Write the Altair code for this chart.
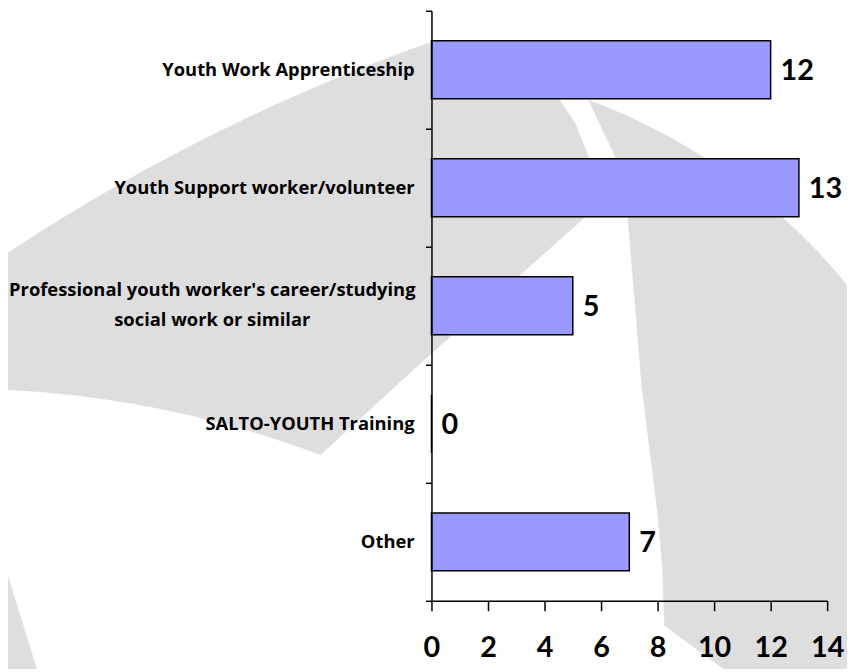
import altair as alt
import numpy as np
import pandas as pd

# ---------------- data ----------------
categories = [
    "Youth Work Apprenticeship",
    "Youth Support worker/volunteer",
    "Professional youth worker's career/studying social work or similar",
    "SALTO-YOUTH Training",
    "Other",
]
label_lines = [
    ["Youth Work Apprenticeship"],
    ["Youth Support worker/volunteer"],
    ["Professional youth worker's career/studying", "social work or similar"],
    ["SALTO-YOUTH Training"],
    ["Other"],
]
values = [12, 13, 5, 0, 7]
x_ticks = [0, 2, 4, 6, 8, 10, 12, 14]

df = pd.DataFrame({
    "cat": categories,
    "value": values,
    "lines": label_lines,
    "multi": [len(l) > 1 for l in label_lines],
})

# ---------------- layout / style ----------------
FONT_NUM = "Lato"
FONT_LBL = "Open Sans"
PAD_L, PAD_T = 427, 0
W, H = 399, 595
OX, OY = PAD_L + 8, PAD_T + 8  # plot origin on the page

# ---------------- decorative watermark (grey swooshes behind the chart) ----------------
def arc_pts(cx, cy, r, x0, x1, n=24):
    xs = np.linspace(x0, x1, n)
    ys = cy - np.sqrt(r * r - (xs - cx) ** 2)
    return [[float(x), float(y)] for x, y in zip(xs, ys)]

shape_a = (arc_pts(1090, 1890, 1963, -12, 430)
           + [[460, 38], [500, 38], [540, 45], [556, 65], [563, 96], [580, 122],
              [593, 154], [595, 185], [590, 216], [430, 358]]
           + arc_pts(-42, 1420, 1031, 323, -12))
shape_b = ([[593, 97], [606, 125], [620, 154], [628, 185], [633, 216], [640, 300],
            [647, 386], [655, 450], [663, 514], [668, 570], [670, 628], [730, 672],
            [742, 700], [880, 700], [880, 320]]
           + arc_pts(381, 670, 610, 870, 593))
shape_c = [[-12, 549], [0, 553], [37, 672], [43, 700], [-12, 700]]

def feature(pts):
    ring = [[x - OX, y - OY] for x, y in pts]
    ring.append(ring[0])
    return {"type": "Feature", "properties": {},
            "geometry": {"type": "Polygon", "coordinates": [ring]}}

watermark = alt.Chart(alt.Data(values=[feature(shape_a), feature(shape_b), feature(shape_c)])
                      ).mark_geoshape(fill="#DEDEDE", stroke="#DEDEDE", strokeWidth=0.5,
                                      clip=False
                      ).project(type="identity", scale=1, translate=[0, 0])

# ---------------- chart ----------------
y_enc = alt.Y("cat:N", sort=categories,
              scale=alt.Scale(paddingInner=0, paddingOuter=0),
              axis=alt.Axis(title=None, labels=False, ticks=True, tickSize=6,
                            tickBand="extent", tickColor="black", tickWidth=1.5,
                            domainColor="black", domainWidth=1.5, grid=False, zindex=2))
x_enc = alt.X("value:Q", scale=alt.Scale(domain=[0, 14], nice=False),
              axis=alt.Axis(title=None, values=x_ticks, tickSize=10, tickColor="black",
                            tickWidth=1.5, domainColor="black", domainWidth=1.5,
                            labelFont=FONT_NUM, labelFontWeight="bold", labelFontSize=29,
                            labelColor="black", labelPadding=23, grid=False,
                            labelFlush=False, zindex=2))

bars = alt.Chart(df).mark_bar(color="#9999FF", stroke="black", strokeWidth=1.5,
                              height=alt.RelativeBandSize(0.49)).encode(y=y_enc, x=x_enc)

vals = alt.Chart(df).mark_text(align="left", baseline="middle", dx=10, dy=1, font=FONT_NUM,
                               fontWeight="bold", fontSize=29, color="black").encode(
    y=alt.Y("cat:N", sort=categories), x=alt.X("value:Q"), text=alt.Text("value:Q"))

ylabels = alt.Chart(df).mark_text(
    baseline="middle", font=FONT_LBL, fontWeight="bold", fontSize=18.5, color="black",
    lineHeight=30,
    align=alt.expr("datum.multi ? 'center' : 'right'"),
    dx=alt.expr("datum.multi ? -221 : -17"),
    dy=alt.expr("datum.multi ? -16 : 0"),
).encode(
    y=alt.Y("cat:N", sort=categories),
    x=alt.value(0),
    text=alt.Text("lines"),
)

chart = alt.layer(watermark, bars, vals, ylabels).properties(
    width=W, height=H,
    background="white",
    autosize=alt.AutoSizeParams(type="none"),
    padding={"left": PAD_L, "top": PAD_T, "right": 20, "bottom": 66},
).configure_view(stroke=None)

chart.save("out.html", embed_options={"renderer": "svg", "actions": False})
